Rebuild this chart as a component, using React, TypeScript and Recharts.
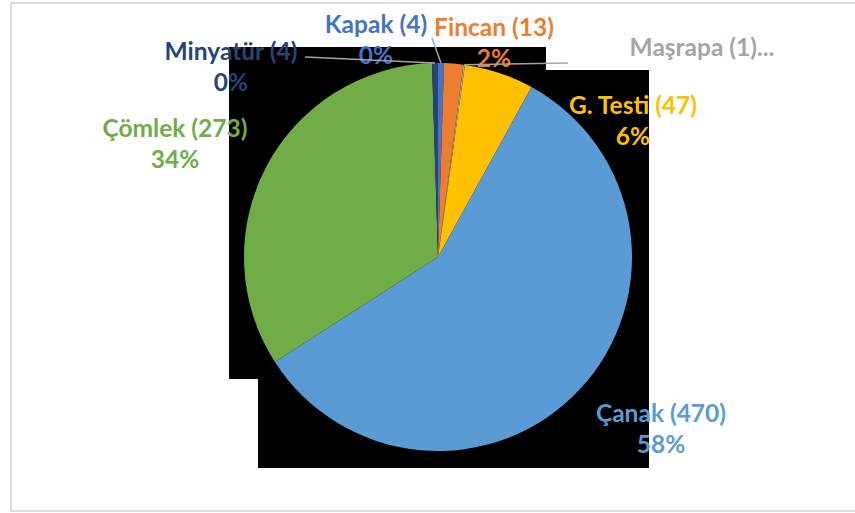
import React from 'react';
import { PieChart, Pie, Cell } from 'recharts';

// slice order, clockwise from 12 o'clock
const categories = ['Kapak', 'Fincan', 'Maşrapa', 'G. Testi', 'Çanak', 'Çömlek', 'Minyatür'];
const counts = [4, 13, 1, 47, 470, 273, 4];
const colors = ['#4472C4', '#ED7D31', '#A5A5A5', '#FFC000', '#5B9BD5', '#70AD47', '#264478'];

// label placement relative to the pie centre (Excel-style manual positions)
const labelLayout: Record<string, { dx: number; dy: number; leader?: [number, number]; truncated?: boolean }> = {
  Kapak: { dx: -62, dy: -224, leader: [56, 5] },
  Fincan: { dx: 56, dy: -221 },
  'Maşrapa': { dx: 264, dy: -201, leader: [-134, 7], truncated: true },
  'G. Testi': { dx: 195, dy: -143 },
  'Çanak': { dx: 223, dy: 165 },
  'Çömlek': { dx: -263, dy: -120 },
  'Minyatür': { dx: -207, dy: -197, leader: [74, -3] },
};

const data = categories.map((name, i) => ({ name, value: counts[i] }));

const FONT = 'Lato, "Noto Sans", sans-serif';
const FONT_SIZE = 24.5;
const LINE_GAP = 31;
const RADIAN = Math.PI / 180;

const renderLabel = (props: any) => {
  const { cx, cy, midAngle, outerRadius, percent, name, value, index } = props;
  const layout = labelLayout[name];
  if (!layout) return null;
  const color = colors[index];
  const x = cx + layout.dx;
  const y = cy + layout.dy;
  const ax = cx + outerRadius * Math.cos(-midAngle * RADIAN);
  const ay = cy + outerRadius * Math.sin(-midAngle * RADIAN);

  return (
    <g>
      {layout.leader && (
        <line
          x1={x + layout.leader[0]}
          y1={y + layout.leader[1]}
          x2={ax}
          y2={ay}
          stroke="#A6A6A6"
          strokeWidth={1.5}
        />
      )}
      <text
        x={x}
        y={y}
        textAnchor="middle"
        fill={color}
        style={{ fontFamily: FONT, fontWeight: 700, fontSize: FONT_SIZE }}
      >
        {layout.truncated ? `${name} (${value})...` : `${name} (${value})`}
      </text>
      {!layout.truncated && (
        <text
          x={x}
          y={y + LINE_GAP}
          textAnchor="middle"
          fill={color}
          style={{ fontFamily: FONT, fontWeight: 700, fontSize: FONT_SIZE }}
        >
          {`${Math.round(percent * 100)}%`}
        </text>
      )}
    </g>
  );
};

export default function App() {
  return (
    <div style={{ position: 'absolute', left: 0, top: 0, width: 855, height: 513, background: '#fff', overflow: 'hidden' }}>
      {/* chart area frame */}
      <div
        style={{
          position: 'absolute',
          left: 10,
          top: 2,
          width: 845,
          height: 510,
          boxSizing: 'border-box',
          borderTop: '2px solid #DCDCDC',
          borderLeft: '2px solid #DCDCDC',
          borderBottom: '2px solid #DCDCDC',
        }}
      />
      {/* dark backdrop behind the plot */}
      <svg width={855} height={513} style={{ position: 'absolute', left: 0, top: 0 }}>
        <polygon points="229,47 546,47 546,70 649,70 649,468 258,468 258,379 229,379" fill="#000" />
      </svg>
      <div style={{ position: 'absolute', left: 0, top: 0 }}>
        <PieChart width={855} height={513} margin={{ top: 0, right: 0, bottom: 0, left: 0 }}>
          <Pie
            data={data}
            dataKey="value"
            nameKey="name"
            cx={438}
            cy={257}
            outerRadius={194}
            startAngle={90}
            endAngle={-270}
            stroke="none"
            label={renderLabel}
            labelLine={false}
            isAnimationActive={false}
          >
            {data.map((d, i) => (
              <Cell key={d.name} fill={colors[i]} />
            ))}
          </Pie>
        </PieChart>
      </div>
    </div>
  );
}
